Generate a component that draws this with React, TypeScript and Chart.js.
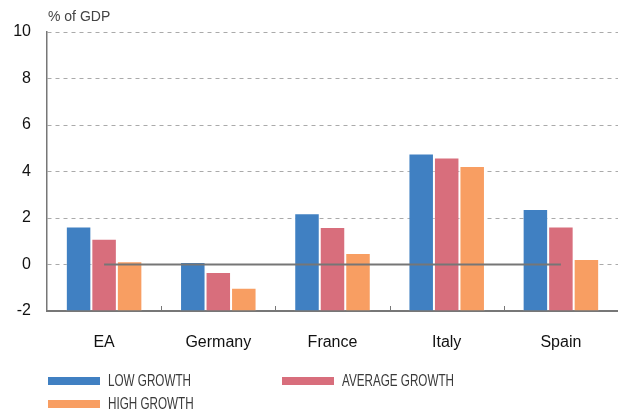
import React, { useEffect, useRef } from "react";
import { Chart, registerables } from "chart.js";

Chart.register(...registerables);

const categories = ["EA", "Germany", "France", "Italy", "Spain"];
const lowGrowth = [1.63, 0.11, 2.2, 4.77, 2.39];
const averageGrowth = [1.11, -0.32, 1.61, 4.6, 1.63];
const highGrowth = [0.14, -1.0, 0.49, 4.24, 0.24];
const zeroLine = [0, 0, 0, 0, 0];
const seriesNames = ["LOW GROWTH", "AVERAGE GROWTH", "HIGH GROWTH"];
const seriesColors = ["#4080c2", "#d86e7c", "#f89e62"];
const yTicks = [-2, 0, 2, 4, 6, 8, 10];
const yMin = -2;
const yMax = 10;
const unitLabel = "% of GDP";

const FONT = "'Liberation Sans', Arial, Helvetica, sans-serif";

const tickMarksPlugin = {
  id: "catTicks",
  afterDraw(chart: any) {
    const x = chart.scales.x;
    const area = chart.chartArea;
    const ctx = chart.ctx;
    ctx.save();
    ctx.strokeStyle = "#777";
    ctx.lineWidth = 1;
    for (let i = 1; i < categories.length; i++) {
      const px = Math.round((x.getPixelForValue(i - 1) + x.getPixelForValue(i)) / 2) + 0.5;
      ctx.beginPath();
      ctx.moveTo(px, area.bottom);
      ctx.lineTo(px, area.bottom - 5);
      ctx.stroke();
    }
    ctx.restore();
  },
};

export default function App() {
  const ref = useRef<HTMLCanvasElement>(null);
  useEffect(() => {
    if (!ref.current) return;
    const barData = [lowGrowth, averageGrowth, highGrowth];
    const chart = new Chart(ref.current, {
      type: "bar",
      data: {
        labels: categories,
        datasets: [
          {
            type: "line" as any,
            label: "zero",
            data: zeroLine,
            borderColor: "#767676",
            borderWidth: 2,
            pointRadius: 0,
            order: 0,
          } as any,
          ...barData.map((d, i) => ({
            type: "bar" as any,
            label: seriesNames[i],
            data: d,
            base: yMin,
            backgroundColor: seriesColors[i],
            borderColor: "rgba(255,255,255,0.35)",
            borderWidth: 1,
            borderSkipped: "bottom",
            categoryPercentage: 0.67,
            barPercentage: 1.0,
            order: 1,
          })),
        ],
      },
      options: {
        animation: false,
        responsive: false,
        maintainAspectRatio: false,
        layout: { padding: { top: 32, right: 0, left: 0, bottom: 0 } },
        plugins: { legend: { display: false }, tooltip: { enabled: false } },
        scales: {
          x: {
            grid: { display: false, drawTicks: false },
            border: { display: true, color: "#777", width: 2 },
            ticks: { color: "#111", font: { family: FONT, size: 16 }, padding: 22 },
            afterFit(scale: any) {
              scale.height = 100;
            },
          },
          y: {
            min: yMin,
            max: yMax,
            afterBuildTicks(scale: any) {
              scale.ticks = yTicks.map((v) => ({ value: v }));
            },
            grid: {
              color: (c: any) => (c.tick && c.tick.value === yMin ? "rgba(0,0,0,0)" : "#aaa"),
              lineWidth: 1,
              drawTicks: false,
            },
            border: { display: true, color: "#777", width: 1.5, dash: [4, 4] },
            ticks: { color: "#111", font: { family: FONT, size: 16 }, padding: 16 },
            afterFit(scale: any) {
              scale.width = 47;
            },
          },
        },
      },
      plugins: [tickMarksPlugin],
    } as any);
    return () => chart.destroy();
  }, []);

  const legendItems = [
    { left: 48, top: 377 },
    { left: 282, top: 377 },
    { left: 48, top: 400 },
  ];

  return (
    <div style={{ position: "fixed", left: 0, top: 0, width: 618, height: 411, background: "#fff" }}>
      <canvas ref={ref} width={618} height={411} style={{ position: "absolute", left: 0, top: 0 }} />
      <div
        style={{
          position: "absolute",
          left: 48,
          top: 8,
          fontFamily: FONT,
          fontSize: 14,
          color: "#444",
        }}
      >
        {unitLabel}
      </div>
      {seriesNames.map((name, i) => (
        <div key={name} style={{ position: "absolute", left: legendItems[i].left, top: legendItems[i].top - 6 }}>
          <div
            style={{
              position: "absolute",
              left: 0,
              top: 6,
              width: 52,
              height: 8,
              background: seriesColors[i],
            }}
          />
          <div
            style={{
              position: "absolute",
              left: 60,
              top: 0,
              whiteSpace: "nowrap",
              fontFamily: FONT,
              fontSize: 16,
              lineHeight: "20px",
              color: "#3a3a3a",
              transform: "scaleX(0.73)",
              transformOrigin: "left center",
            }}
          >
            {name}
          </div>
        </div>
      ))}
    </div>
  );
}
